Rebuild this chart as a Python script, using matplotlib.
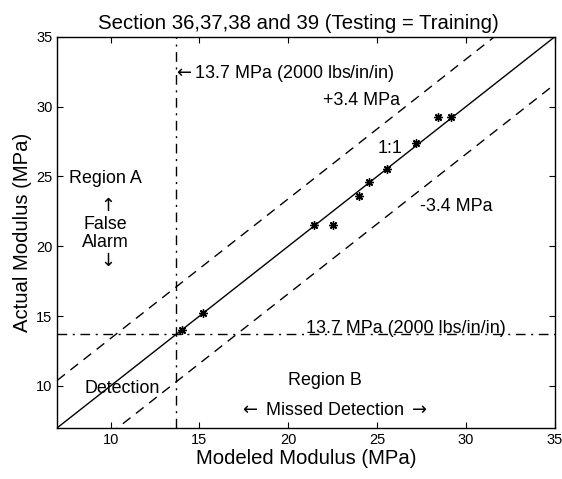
import numpy as np
import matplotlib
matplotlib.use("Agg")
import matplotlib.pyplot as plt

plt.rcParams['font.family'] = ['Liberation Sans', 'DejaVu Sans']
plt.rcParams['mathtext.fontset'] = 'dejavusans'

# Data
modeled = [14.03, 15.22, 21.46, 22.50, 24.00, 24.54, 25.57, 27.22, 28.44, 29.19]
actual  = [14.00, 15.23, 21.49, 21.49, 23.63, 24.59, 25.50, 27.38, 29.28, 29.28]
threshold = 13.7
band = 3.4
xlim = [7, 35]
ylim = [7, 35]
ticks = [10, 15, 20, 25, 30, 35]

fig = plt.figure(figsize=(5.62, 4.79), dpi=100)
ax = fig.add_axes([0.102, 0.107, 0.885, 0.816])

xs = np.array(xlim, dtype=float)
ax.plot(xs, xs, color='black', lw=1.0)
ax.plot(xs, xs + band, color='black', lw=1.0, linestyle=(0, (7, 5)))
ax.plot(xs, xs - band, color='black', lw=1.0, linestyle=(0, (7, 5)))
ax.axvline(threshold, color='black', lw=1.0, linestyle=(0, (7, 4, 1.5, 4)))
ax.axhline(threshold, color='black', lw=1.0, linestyle=(0, (7, 4, 1.5, 4)))

ax.plot(modeled, actual, linestyle='none', marker=(8, 2, 0), markersize=6,
        markeredgewidth=1.0, color='black')

ax.set_xlim(xlim)
ax.set_ylim(ylim)
ax.set_xticks(ticks)
ax.set_yticks(ticks)
ax.tick_params(direction='in', top=True, right=True, labelsize=10.5, length=4, width=0.8)
for s in ax.spines.values():
    s.set_linewidth(1.0)

ax.set_title('Section 36,37,38 and 39 (Testing = Training)', fontsize=14.7, pad=6, x=0.485)
ax.set_xlabel('Modeled Modulus (MPa)', fontsize=14.6, labelpad=2)
ax.set_ylabel('Actual Modulus (MPa)', fontsize=14.6, labelpad=3)

fs = 12.9
ax.text(13.5, 32.4, r'$\leftarrow$13.7 MPa (2000 lbs/in/in)', fontsize=fs, ha='left', va='center')
ax.text(24.1, 30.43, '+3.4 MPa', fontsize=fs, ha='center', va='center')
ax.text(25.74, 26.97, '1:1', fontsize=fs, ha='center', va='center')
ax.text(29.48, 22.86, '-3.4 MPa', fontsize=fs, ha='center', va='center')
ax.text(9.68, 24.88, 'Region A', fontsize=fs, ha='center', va='center')
ax.text(9.68, 22.9, r'$\uparrow$', fontsize=fs, ha='center', va='center')
ax.text(9.68, 21.55, 'False', fontsize=fs, ha='center', va='center')
ax.text(9.68, 20.3, 'Alarm', fontsize=fs, ha='center', va='center')
ax.text(9.68, 18.9, r'$\downarrow$', fontsize=fs, ha='center', va='center')
ax.text(26.62, 14.1, '13.7 MPa (2000 lbs/in/in)', fontsize=fs, ha='center', va='center')
ax.text(10.64, 9.8, 'Detection', fontsize=fs, ha='center', va='center')
ax.text(22.08, 10.38, 'Region B', fontsize=fs, ha='center', va='center')
ax.text(22.53, 8.25, r'$\leftarrow$ Missed Detection $\rightarrow$', fontsize=fs, ha='center', va='center')

fig.savefig('out.png', dpi=100)
